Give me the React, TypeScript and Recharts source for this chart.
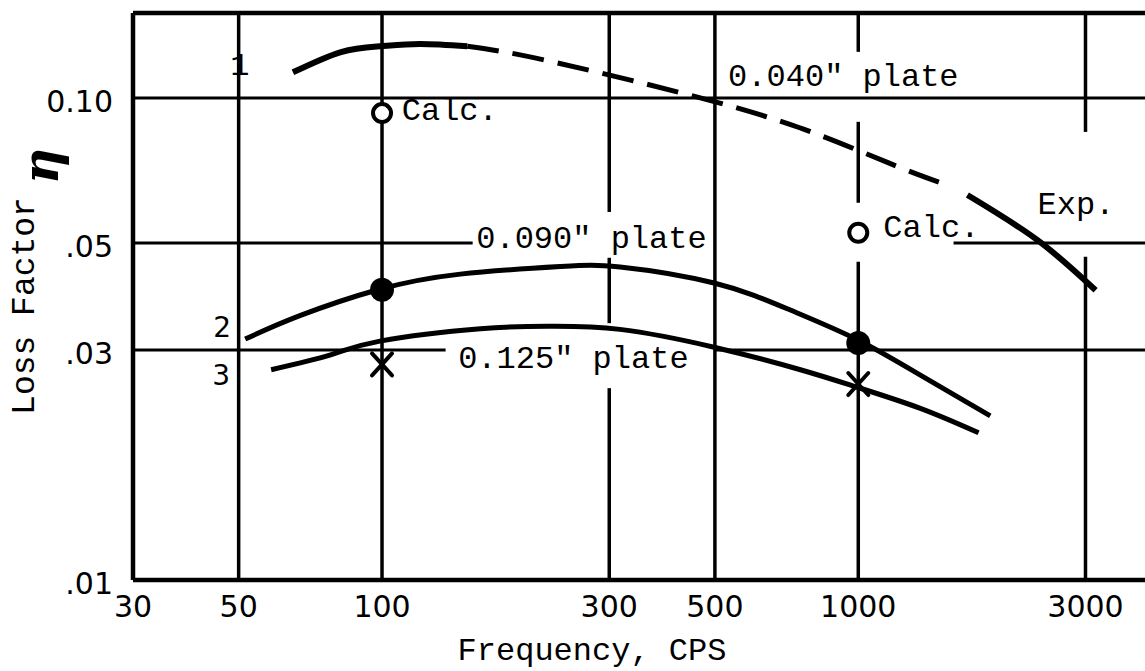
import { ComposedChart, Line, Scatter, XAxis, YAxis, ReferenceLine, ReferenceDot } from 'recharts';

// frequency ticks (CPS) and loss factor ticks
const xTicks = [30, 50, 100, 300, 500, 1000, 3000];
const yTicks = [0.01, 0.03, 0.05, 0.1];
const yTickLabels = ['.01', '.03', '.05', '0.10'];

// curve 1, 0.040" plate: solid start, dashed middle, solid "Exp." end
const plate040Start = [
  { f: 65, v: 0.113 },
  { f: 82, v: 0.1245 },
  { f: 99, v: 0.128 },
  { f: 120, v: 0.1294 },
  { f: 151, v: 0.128 },
];
const plate040Dashed = [
  { f: 151, v: 0.128 },
  { f: 195, v: 0.1228 },
  { f: 287, v: 0.1127 },
  { f: 466, v: 0.1 },
  { f: 756, v: 0.0866 },
  { f: 1158, v: 0.0733 },
  { f: 1488, v: 0.0667 },
];
const plate040Exp = [
  { f: 1695, v: 0.0629 },
  { f: 2379, v: 0.0507 },
  { f: 3150, v: 0.0399 },
];

// curve 2, 0.090" plate
const plate090 = [
  { f: 51.6, v: 0.0316 },
  { f: 67, v: 0.0353 },
  { f: 98, v: 0.04 },
  { f: 146, v: 0.0431 },
  { f: 237, v: 0.0447 },
  { f: 316, v: 0.0446 },
  { f: 498, v: 0.0413 },
  { f: 720, v: 0.0363 },
  { f: 996, v: 0.0315 },
  { f: 1350, v: 0.0266 },
  { f: 1893, v: 0.0219 },
];

// curve 3, 0.125" plate
const plate125 = [
  { f: 58.5, v: 0.0273 },
  { f: 78, v: 0.0293 },
  { f: 99, v: 0.0313 },
  { f: 161, v: 0.0332 },
  { f: 226, v: 0.0336 },
  { f: 316, v: 0.0331 },
  { f: 498, v: 0.0304 },
  { f: 756, v: 0.0273 },
  { f: 996, v: 0.0251 },
  { f: 1350, v: 0.0227 },
  { f: 1789, v: 0.0202 },
];

// measured / calculated points
const calcPoints = [
  { f: 100, v: 0.093 },
  { f: 1000, v: 0.0525 },
];
const dotPoints = [
  { f: 100, v: 0.04 },
  { f: 1000, v: 0.031 },
];
const crossPoints = [
  { f: 100, v: 0.028 },
  { f: 1000, v: 0.0255 },
];

// grid of the paper, with the breaks left around the typed labels
const vGrid = [
  { f: 30, from: 0.01, to: 0.15 },
  { f: 50, from: 0.01, to: 0.15 },
  { f: 100, from: 0.01, to: 0.15 },
  { f: 300, from: 0.058, to: 0.15 },
  { f: 300, from: 0.0341, to: 0.0466 },
  { f: 300, from: 0.01, to: 0.025 },
  { f: 500, from: 0.01, to: 0.15 },
  { f: 1000, from: 0.1246, to: 0.15 },
  { f: 1000, from: 0.0606, to: 0.0892 },
  { f: 1000, from: 0.01, to: 0.0457 },
  { f: 3000, from: 0.085, to: 0.15 },
  { f: 3000, from: 0.01, to: 0.0468 },
];
const hGrid = [
  { v: 0.15, from: 30, to: 4000 },
  { v: 0.1, from: 30, to: 4000 },
  { v: 0.05, from: 30, to: 155 },
  { v: 0.05, from: 1585, to: 4000 },
  { v: 0.03, from: 30, to: 136 },
  { v: 0.03, from: 500, to: 4000 },
  { v: 0.01, from: 30, to: 4000 },
];

// typed notes, anchored at start of text / baseline
const notes = [
  { f: 48, v: 0.1116, text: '1', sans: false },
  { f: 110, v: 0.09, text: 'Calc.', sans: false },
  { f: 533, v: 0.1059, text: '0.040" plate', sans: false },
  { f: 1129, v: 0.0515, text: 'Calc.', sans: false },
  { f: 2379, v: 0.0574, text: 'Exp.', sans: false },
  { f: 157.7, v: 0.0488, text: '0.090" plate', sans: false },
  { f: 144.5, v: 0.0275, text: '0.125" plate', sans: false },
  { f: 44.2, v: 0.0319, text: '2', sans: true },
  { f: 44, v: 0.0254, text: '3', sans: true },
];

const MONO = '"Liberation Mono", "DejaVu Sans Mono", monospace';
const SANS = '"DejaVu Sans", sans-serif';

const XTick = ({ x, y, payload }: any) => (
  <text x={x} y={y + 29} textAnchor="middle" fontFamily={SANS} fontSize={30} fill="#000">
    {payload.value}
  </text>
);

const YTick = ({ y, payload }: any) => (
  <text x={113} y={y + 14} textAnchor="end" fontFamily={SANS} fontSize={30} fill="#000">
    {yTickLabels[yTicks.indexOf(payload.value)]}
  </text>
);

const OpenCircle = ({ cx, cy }: any) => <circle cx={cx} cy={cy} r={9} fill="#fff" stroke="#000" strokeWidth={4} />;
const FilledCircle = ({ cx, cy }: any) => <circle cx={cx} cy={cy} r={12} fill="#000" />;
const Cross = ({ cx, cy }: any) => (
  <g stroke="#000" strokeWidth={4} strokeLinecap="round">
    <line x1={cx - 10} y1={cy - 11} x2={cx + 10} y2={cy + 11} />
    <line x1={cx + 10} y1={cy - 11} x2={cx - 10} y2={cy + 11} />
  </g>
);

export default function App() {
  return (
    <div style={{ position: 'absolute', left: 0, top: 0, width: 1145, height: 671, background: '#fff' }}>
      <ComposedChart width={1145} height={671} margin={{ top: 13, right: 0, bottom: 0, left: 0 }}>
        <XAxis
          dataKey="f"
          type="number"
          scale="log"
          domain={[30, 4000]}
          allowDataOverflow
          ticks={xTicks}
          tick={<XTick />}
          axisLine={false}
          tickLine={false}
          height={91}
          label={{
            content: () => (
              <text x={592} y={660} textAnchor="middle" fontFamily={MONO} fontSize={32} fill="#000">
                Frequency, CPS
              </text>
            ),
          }}
        />
        <YAxis
          dataKey="v"
          type="number"
          scale="log"
          domain={[0.01, 0.15]}
          allowDataOverflow
          ticks={yTicks}
          tick={<YTick />}
          axisLine={false}
          tickLine={false}
          width={133}
          label={{
            content: () => (
              <g>
                <text transform="translate(34,306) rotate(-90)" textAnchor="middle" fontFamily={MONO} fontSize={33} fill="#000">
                  Loss Factor
                </text>
                <text transform="translate(58,166) rotate(-90)" textAnchor="middle" fontFamily='"DejaVu Serif", serif' fontStyle="italic" fontWeight="bold" fontSize={50} fill="#000">
                  η
                </text>
              </g>
            ),
          }}
        />

        {vGrid.map((g, i) => (
          <ReferenceLine
            key={'v' + i}
            segment={[{ x: g.f, y: g.from }, { x: g.f, y: g.to }]}
            stroke="#000"
            strokeWidth={g.f === 30 ? 4.5 : 3.5}
          />
        ))}
        {hGrid.map((g, i) => (
          <ReferenceLine
            key={'h' + i}
            segment={[{ x: g.from, y: g.v }, { x: g.to, y: g.v }]}
            stroke="#000"
            strokeWidth={g.v === 0.01 || g.v === 0.15 ? 4.5 : 3}
          />
        ))}

        <Line data={plate040Start} dataKey="v" type="natural" stroke="#000" strokeWidth={6} dot={false} isAnimationActive={false} />
        <Line data={plate040Dashed} dataKey="v" type="natural" stroke="#000" strokeWidth={5} strokeDasharray="32 14" dot={false} isAnimationActive={false} />
        <Line data={plate040Exp} dataKey="v" type="natural" stroke="#000" strokeWidth={6} dot={false} isAnimationActive={false} />
        <Line data={plate090} dataKey="v" type="natural" stroke="#000" strokeWidth={5} dot={false} isAnimationActive={false} />
        <Line data={plate125} dataKey="v" type="natural" stroke="#000" strokeWidth={5} dot={false} isAnimationActive={false} />

        <Scatter data={calcPoints} dataKey="v" shape={<OpenCircle />} isAnimationActive={false} />
        <Scatter data={dotPoints} dataKey="v" shape={<FilledCircle />} isAnimationActive={false} />
        <Scatter data={crossPoints} dataKey="v" shape={<Cross />} isAnimationActive={false} />

        {notes.map((n, i) => (
          <ReferenceDot
            key={'n' + i}
            x={n.f}
            y={n.v}
            r={0}
            ifOverflow="visible"
            shape={(p: any) => (
              <text x={p.cx} y={p.cy} fontFamily={n.sans ? SANS : MONO} fontSize={n.sans ? 28 : 32} fill="#000">
                {n.text}
              </text>
            )}
          />
        ))}
      </ComposedChart>
    </div>
  );
}
